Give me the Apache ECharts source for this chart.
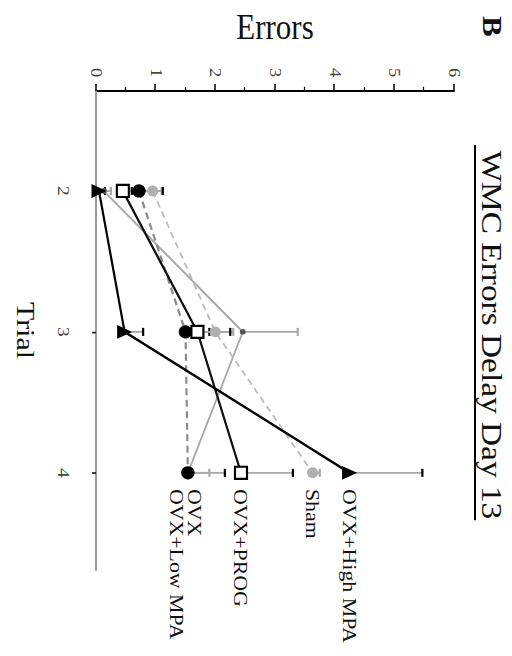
<!DOCTYPE html>
<html>
<head>
<meta charset="utf-8">
<script src="https://cdn.jsdelivr.net/npm/echarts@6/dist/echarts.min.js"></script>
<style>
  html, body { margin: 0; padding: 0; background: #fff; }
  #wrap { position: absolute; left: 0; top: 0; width: 512px; height: 656px; overflow: hidden; background: #fff; }
  /* the figure is drawn upright and then turned a quarter clockwise, slightly stretched */
  #chart {
    position: absolute; left: 0; top: 0; width: 570px; height: 512px;
    transform-origin: 0 0;
    transform: translate(512px, 0) rotate(90deg) scale(1.1509, 1);
  }
</style>
</head>
<body>
<div id="wrap"><div id="chart"></div></div>
<script>
// trials on the x axis, errors on the y axis
const trials = [2, 3, 4];
const errorTicks = [0, 1, 2, 3, 4, 5, 6];

// group means
const highMpa = [0.05, 0.48, 4.25];
const sham = [0.95, 2.0, 3.63];
const prog = [0.45, 1.7, 2.43];
const ovx = [0.72, 1.5, 1.54];
const lowMpa = [0.13, 2.46, 1.54];

// upper end of each error bar
const highMpaErr = [0.15, 0.79, 5.47];
const shamErr = [1.1, 2.3, 3.75];
const progErr = [0.6, 2.25, 3.3];
const ovxErr = [1.12, 1.9, 2.16];
const lowMpaErr = [0.25, 3.38, 1.9];

const FONT = "Liberation Serif";

var chart = echarts.init(document.getElementById("chart"), null, { renderer: "svg" });

function pts(vals) {
  return trials.map(function (t, i) { return [t, vals[i]]; });
}
function errRows(vals, ups) {
  return trials.map(function (t, i) { return [t, vals[i], ups[i]]; });
}

// error bar: thin grey stem with a short cap
function errBar(name, vals, ups, capColor) {
  return {
    name: name + " err",
    type: "custom",
    z: 1,
    data: errRows(vals, ups),
    renderItem: function (params, api) {
      var x = api.value(0);
      var p0 = api.coord([x, api.value(1)]);
      var p1 = api.coord([x, api.value(2)]);
      return {
        type: "group",
        children: [
          { type: "line", shape: { x1: p0[0], y1: p0[1], x2: p1[0], y2: p1[1] }, style: { stroke: "#a8a8a8", lineWidth: 1.6 } },
          { type: "line", shape: { x1: p1[0] - 3.5, y1: p1[1], x2: p1[0] + 3.5, y2: p1[1] }, style: { stroke: capColor, lineWidth: 2.2 } },
        ],
      };
    },
  };
}

function lineSeries(name, vals, opt) {
  return {
    name: name,
    type: "line",
    z: opt.z || 2,
    data: pts(vals),
    symbol: opt.symbol,
    symbolSize: opt.size,
    lineStyle: { color: opt.line, width: opt.width || 2, type: opt.dash || "solid" },
    itemStyle: { color: opt.fill, borderColor: opt.border || opt.fill, borderWidth: opt.borderWidth || 0 },
    endLabel: {
      show: true,
      formatter: name,
      distance: 14,
      offset: [0, opt.dy || 0],
      fontFamily: FONT,
      fontSize: 19,
      color: "#111",
    },
  };
}

var option = {
  animation: false,
  backgroundColor: "#fff",
  textStyle: { fontFamily: FONT },
  grid: { left: 76.5, right: 74.7, top: 58, bottom: 96 },
  xAxis: {
    type: "value",
    min: 1.29,
    max: 4.69,
    name: "Trial",
    nameLocation: "middle",
    nameGap: 57,
    nameTextStyle: { fontFamily: FONT, fontSize: 26, color: "#111" },
    axisLine: { show: true, onZero: false, lineStyle: { color: "#9a9a9a", width: 2 } },
    axisTick: { show: true, customValues: trials, length: 4, lineStyle: { color: "#222", width: 1.5 } },
    axisLabel: { customValues: trials, margin: 24, fontFamily: FONT, fontSize: 17, color: "#444" },
    splitLine: { show: false },
  },
  yAxis: {
    type: "value",
    min: 0,
    max: 6,
    interval: 1,
    name: "Errors",
    nameLocation: "middle",
    nameRotate: 90,
    nameGap: 40,
    nameTextStyle: { fontFamily: FONT, fontSize: 31, color: "#111" },
    axisLine: { show: true, lineStyle: { color: "#000", width: 1.8 } },
    axisTick: { show: true, length: 6, lineStyle: { color: "#000", width: 1.5 } },
    minorTick: { show: true, splitNumber: 2, length: 3.5, lineStyle: { color: "#000", width: 1.2 } },
    axisLabel: {
      margin: 12,
      fontFamily: FONT,
      fontSize: 16,
      color: "#444",
      formatter: function (v) { return errorTicks.indexOf(v) >= 0 ? String(v) : ""; },
    },
    splitLine: { show: false },
  },
  graphic: [
    { type: "text", left: 14, top: 6, style: { text: "B", font: "bold 27px " + FONT, fill: "#111" } },
    { type: "text", x: 291, y: 20, style: { text: "WMC Errors Delay Day 13", font: "29px " + FONT, fill: "#111", align: "center", verticalAlign: "middle" } },
    { type: "line", shape: { x1: 126, y1: 37, x2: 452, y2: 37 }, style: { stroke: "#000", lineWidth: 2 } },
  ],
  series: [
    errBar("OVX+Low MPA", lowMpa, lowMpaErr, "#a8a8a8"),
    errBar("Sham", sham, shamErr, "#a8a8a8"),
    errBar("OVX", ovx, ovxErr, "#000"),
    errBar("OVX+PROG", prog, progErr, "#000"),
    errBar("OVX+High MPA", highMpa, highMpaErr, "#000"),
    lineSeries("OVX+Low MPA", lowMpa, { symbol: "circle", size: [5, 6], line: "#a8a8a8", fill: "#555", width: 1.8, dy: 11 }),
    lineSeries("Sham", sham, { symbol: "circle", size: [9.5, 11], line: "#bdbdbd", fill: "#b0b0b0", dash: [6, 4], width: 1.8 }),
    lineSeries("OVX", ovx, { symbol: "circle", size: [11.5, 13.5], line: "#8c8c8c", fill: "#000", dash: [6, 4], width: 2.2, dy: -7, z: 3 }),
    lineSeries("OVX+PROG", prog, { symbol: "rect", size: [10.5, 12], line: "#111", fill: "#fff", border: "#000", borderWidth: 2, width: 2.2, z: 4 }),
    lineSeries("OVX+High MPA", highMpa, { symbol: "triangle", size: [12, 15], line: "#000", fill: "#000", width: 2.2, z: 4 }),
  ],
};

chart.setOption(option);
</script>
</body>
</html>
